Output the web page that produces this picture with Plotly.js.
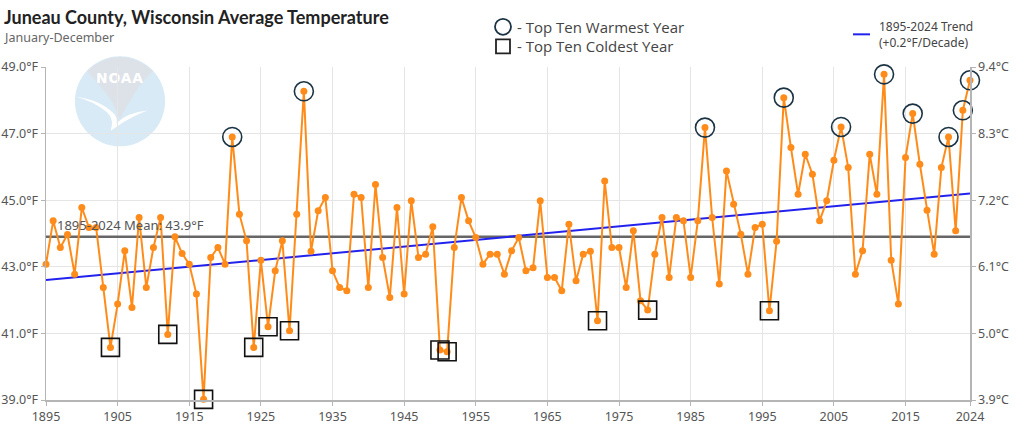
<!DOCTYPE html>
<html>
<head>
<meta charset="utf-8">
<script src="https://cdn.plot.ly/plotly-3.0.1.min.js"></script>
<style>html,body{margin:0;padding:0;background:#fff;}#chart{width:1024px;height:432px;}</style>
</head>
<body>
<div id="chart"></div>
<script>
const startYear = 1895;
const temps = [
43.08,44.38,43.58,43.97,42.78,44.78,44.18,44.18,42.38,40.58,
41.88,43.48,41.78,44.48,42.38,43.58,44.48,40.97,43.90,43.40,
43.08,42.18,39.02,43.28,43.58,43.08,46.90,44.58,43.78,40.58,
43.20,41.20,42.88,43.78,41.08,44.58,48.27,43.47,44.68,45.08,
42.88,42.38,42.28,45.18,45.08,42.38,45.47,43.28,42.08,44.78,
42.18,44.98,43.28,43.38,44.20,40.50,40.45,43.58,45.08,44.38,
43.88,43.08,43.38,43.38,42.78,43.48,43.88,42.88,42.97,44.98,
42.68,42.68,42.28,44.28,42.58,43.38,43.47,41.38,45.58,43.58,
43.58,42.38,44.08,41.98,41.70,43.38,44.48,42.68,44.48,44.38,
42.68,44.38,47.18,44.48,42.48,45.88,44.88,43.98,42.78,44.18,
44.28,41.68,43.77,48.08,46.58,45.18,46.38,45.78,44.38,44.98,
46.20,47.20,45.98,42.78,43.48,46.38,45.18,48.78,43.20,41.88,
46.28,47.60,46.08,44.70,43.38,45.98,46.90,44.08,47.70,48.60
];
const years = temps.map((_, i) => startYear + i);
const warmestYears = [1921, 1931, 1987, 1998, 2006, 2012, 2016, 2021, 2023, 2024];
const coldestYears = [1904, 1912, 1917, 1924, 1926, 1929, 1950, 1951, 1972, 1979, 1996];
const meanValue = 43.9;
const trendYears = [1895, 2024];
const trendValues = [42.6, 45.2];
const xTickVals = [1895, 1905, 1915, 1925, 1935, 1945, 1955, 1965, 1975, 1985, 1995, 2005, 2015, 2024];
const fTickVals = [39, 41, 43, 45, 47, 49];
const cTickText = ['3.9°C', '5.0°C', '6.1°C', '7.2°C', '8.3°C', '9.4°C'];

const valueOf = y => temps[y - startYear];
const toC = f => (f - 32) * 5 / 9;

const tickFont = {family: 'Noto Sans, sans-serif', size: 12.5, color: '#555'};

const traces = [
  {x: [years[0], years[years.length - 1]], y: [meanValue, meanValue], mode: 'lines',
   line: {color: '#666666', width: 2.5}, hoverinfo: 'skip', showlegend: false},
  {x: trendYears, y: trendValues, mode: 'lines',
   line: {color: '#2222ee', width: 2}, hoverinfo: 'skip', showlegend: false},
  {x: years, y: temps, mode: 'lines+markers', cliponaxis: false,
   line: {color: '#ff8c1a', width: 2}, marker: {color: '#ff8c1a', size: 7},
   showlegend: false},
  {x: warmestYears, y: warmestYears.map(valueOf), mode: 'markers', cliponaxis: false,
   marker: {symbol: 'circle-open', size: 19, color: '#1b3343', line: {width: 1.6, color: '#1b3343'}},
   showlegend: false, hoverinfo: 'skip'},
  {x: coldestYears, y: coldestYears.map(valueOf), mode: 'markers', cliponaxis: false,
   marker: {symbol: 'square-open', size: 18, color: '#111', line: {width: 1.6, color: '#111'}},
   showlegend: false, hoverinfo: 'skip'},
  {x: years, y: temps.map(toC), yaxis: 'y2', mode: 'lines', line: {width: 0, color: 'rgba(0,0,0,0)'},
   hoverinfo: 'skip', showlegend: false}
];

const logoSvg = '<svg xmlns="http://www.w3.org/2000/svg" width="200" height="200" viewBox="0 0 100 100">' +
  '<circle cx="50" cy="50" r="49" fill="#d8eaf6"/>' +
  '<path d="M14 17 Q50 -14 86 17 Q72 30 62 48 Q54 60 50 70 Q44 52 32 38 Q24 28 14 17 Z" fill="#dde2e8"/>' +
  '<path d="M2 45 Q28 48 44 64 Q48 70 46 74 Q58 62 80 60 Q64 66 52 74 Q46 78 40 82 Q44 70 36 62 Q22 50 2 45 Z" fill="#ffffff"/>' +
  '<text x="50" y="30" font-family="DejaVu Sans, sans-serif" font-size="15" font-weight="bold" fill="#ffffff" text-anchor="middle" letter-spacing="1">NOAA</text>' +
  '</svg>';
const logoUri = 'data:image/svg+xml;charset=utf-8,' + encodeURIComponent(logoSvg);

const W = 924, H = 333.3, L = 46, T = 66.7;
const px = x => (x - L) / W;
const py = y => (T + H - y) / H;

const layout = {
  width: 1024, height: 432,
  margin: {l: 46, r: 54, t: 67, b: 32, pad: 0},
  paper_bgcolor: '#ffffff', plot_bgcolor: '#ffffff',
  font: {family: 'Noto Sans, sans-serif', color: '#555'},
  xaxis: {
    range: [1895, 2024], tickvals: xTickVals, ticktext: xTickVals.map(String),
    showgrid: true, gridcolor: '#e5e5e5', gridwidth: 1,
    showline: true, linecolor: '#b5b5b5', linewidth: 1.5,
    ticks: 'outside', ticklen: 4, tickcolor: '#b5b5b5', tickfont: tickFont,
    zeroline: false, fixedrange: true
  },
  yaxis: {
    range: [39, 49], tickvals: fTickVals, ticktext: fTickVals.map(v => v.toFixed(1) + '°F'),
    showgrid: true, gridcolor: '#e5e5e5', gridwidth: 1,
    showline: true, linecolor: '#b5b5b5', linewidth: 1.5,
    ticks: 'outside', ticklen: 4, tickcolor: '#b5b5b5', tickfont: tickFont,
    zeroline: false, fixedrange: true
  },
  yaxis2: {
    overlaying: 'y', side: 'right', range: [toC(39), toC(49)],
    tickvals: fTickVals.map(toC), ticktext: cTickText,
    showgrid: false, showline: true, linecolor: '#b5b5b5', linewidth: 1.5,
    ticks: 'outside', ticklen: 4, tickcolor: '#b5b5b5', tickfont: tickFont,
    zeroline: false, fixedrange: true
  },
  images: [{source: logoUri, xref: 'paper', yref: 'paper', x: px(74), y: py(55),
    sizex: 92 / W, sizey: 92 / H, sizing: 'stretch', xanchor: 'left', yanchor: 'top', layer: 'below', opacity: 1}],
  shapes: [
    {type: 'circle', xref: 'paper', yref: 'paper', x0: px(495), x1: px(511), y0: py(34.5), y1: py(18.5),
     line: {color: '#1b3343', width: 1.8}},
    {type: 'rect', xref: 'paper', yref: 'paper', x0: px(496), x1: px(510), y0: py(53), y1: py(39),
     line: {color: '#222', width: 1.8}},
    {type: 'line', xref: 'paper', yref: 'paper', x0: px(853), x1: px(870), y0: py(34), y1: py(34),
     line: {color: '#2222ee', width: 2}}
  ],
  annotations: [
    {text: '<b>Juneau County, Wisconsin Average Temperature</b>', xref: 'paper', yref: 'paper',
     x: px(2), y: py(17), xanchor: 'left', yanchor: 'middle', showarrow: false,
     font: {family: 'Lato, sans-serif', size: 18, color: '#222'}},
    {text: 'January-December', xref: 'paper', yref: 'paper',
     x: px(2), y: py(37), xanchor: 'left', yanchor: 'middle', showarrow: false,
     font: {family: 'Noto Sans, sans-serif', size: 12.5, color: '#666'}},
    {text: '- Top Ten Warmest Year', xref: 'paper', yref: 'paper',
     x: px(515), y: py(27), xanchor: 'left', yanchor: 'middle', showarrow: false,
     font: {family: 'Open Sans, sans-serif', size: 15, color: '#444'}},
    {text: '- Top Ten Coldest Year', xref: 'paper', yref: 'paper',
     x: px(515), y: py(46), xanchor: 'left', yanchor: 'middle', showarrow: false,
     font: {family: 'Open Sans, sans-serif', size: 15, color: '#444'}},
    {text: '1895-2024 Trend<br>(+0.2°F/Decade)', xref: 'paper', yref: 'paper',
     x: px(877), y: py(34), xanchor: 'left', yanchor: 'middle', align: 'left', showarrow: false,
     font: {family: 'Noto Sans, sans-serif', size: 12, color: '#444'}},
    {text: '1895-2024 Mean: 43.9°F', xref: 'x', yref: 'y', x: 1896.2, y: meanValue,
     xanchor: 'left', yanchor: 'bottom', yshift: 1, showarrow: false,
     font: {family: 'Noto Sans, sans-serif', size: 13, color: '#555'}}
  ],
  showlegend: false
};

Plotly.newPlot('chart', traces, layout, {displayModeBar: false, staticPlot: true});
</script>
</body>
</html>
